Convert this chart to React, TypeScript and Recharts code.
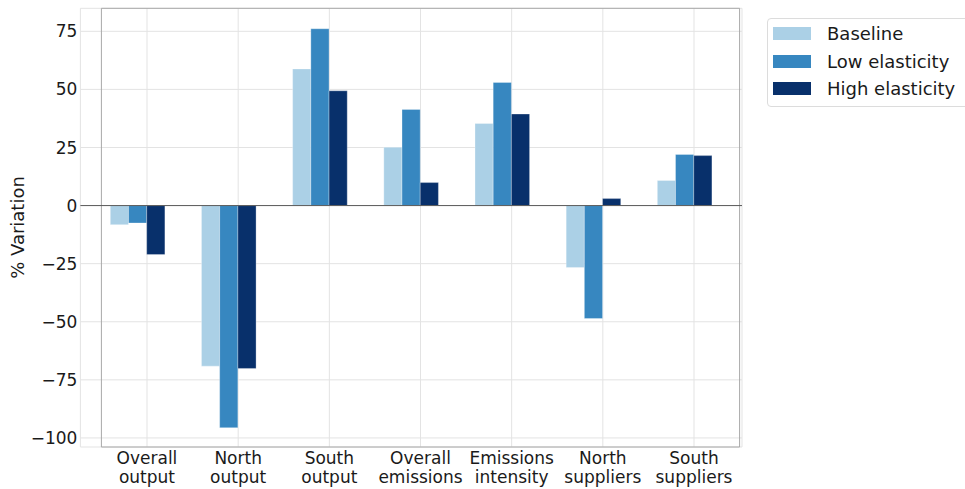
import React from 'react';
import {
  BarChart,
  Bar,
  XAxis,
  YAxis,
  CartesianGrid,
  ReferenceLine,
  ReferenceArea
} from 'recharts';

const categories = [
  'Overall\noutput',
  'North\noutput',
  'South\noutput',
  'Overall\nemissions',
  'Emissions\nintensity',
  'North\nsuppliers',
  'South\nsuppliers'
];

const baseline = [-8.2, -69.1, 58.8, 25.1, 35.3, -26.7, 10.8];
const lowElasticity = [-7.5, -95.6, 76.1, 41.4, 53.0, -48.6, 22.0];
const highElasticity = [-21.1, -70.1, 49.4, 9.9, 39.4, 3.0, 21.5];

const yTicks = [-100, -75, -50, -25, 0, 25, 50, 75];

const series = [
  { key: 'baseline', name: 'Baseline', color: '#abd0e6' },
  { key: 'low', name: 'Low elasticity', color: '#3787c0' },
  { key: 'high', name: 'High elasticity', color: '#08306b' }
];

const data = categories.map((c, i) => ({
  category: c,
  baseline: baseline[i],
  low: lowElasticity[i],
  high: highElasticity[i]
}));

const FONT = '"DejaVu Sans", sans-serif';
const Y_DOMAIN: [number, number] = [-103.9, 84.9];

const fmtY = (v: number) => (v < 0 ? `\u2212${Math.abs(v)}` : `${v}`);

const CategoryTick = (props: any) => {
  const { x, y, payload } = props;
  const lines = String(payload.value).split('\n');
  return (
    <text x={x} y={y} textAnchor="middle" fontFamily={FONT} fontSize={17} fill="#1a1a1a">
      {lines.map((l, i) => (
        <tspan key={i} x={x} dy={i === 0 ? 17 : 19}>
          {l}
        </tspan>
      ))}
    </text>
  );
};

const YTitle = () => (
  <text
    x={24}
    y={227.5}
    transform="rotate(-90 24 227.5)"
    textAnchor="middle"
    fontFamily={FONT}
    fontSize={18}
    fill="#1a1a1a"
  >
    % Variation
  </text>
);

const LegendBox = () => (
  <div
    style={{
      position: 'absolute',
      left: 767,
      top: 18,
      width: 210,
      height: 89,
      boxSizing: 'border-box',
      border: '1px solid #dcdcdc',
      borderRadius: 4,
      background: '#fff',
      paddingTop: 1,
      fontFamily: FONT,
      fontSize: 18,
      color: '#1a1a1a'
    }}
  >
    {series.map((s) => (
      <div key={s.key} style={{ display: 'flex', alignItems: 'center', height: 27.5 }}>
        <div style={{ width: 38, height: 13, marginLeft: 5, background: s.color }} />
        <span style={{ marginLeft: 16, whiteSpace: 'nowrap' }}>{s.name}</span>
      </div>
    ))}
  </div>
);

export default function App() {
  return (
    <div style={{ position: 'fixed', left: 0, top: 0, width: 965, height: 489, background: '#fff', overflow: 'hidden' }}>
      <BarChart
        width={965}
        height={489}
        data={data}
        margin={{ top: 8.3, right: 223, bottom: 0, left: 0 }}
        barGap={0}
        barSize={18.2}
      >
        {/* ticks/grid sit on the category centres; bar groups are shifted left of them */}
        <CartesianGrid xAxisId="labels" stroke="#e3e3e3" strokeWidth={1} />
        <XAxis xAxisId="bars" dataKey="category" hide height={0} padding={{ left: 11.9, right: 11.5 }} />
        <XAxis
          xAxisId="labels"
          dataKey="category"
          interval={0}
          padding={{ left: 21, right: 2.4 }}
          axisLine={false}
          tickLine={false}
          tickSize={0}
          tickMargin={0}
          height={42}
          tick={<CategoryTick />}
        />
        <YAxis
          domain={Y_DOMAIN}
          ticks={yTicks}
          interval={0}
          allowDataOverflow
          width={80.4}
          axisLine={false}
          tickLine={false}
          tickSize={0}
          tickMargin={3}
          tickFormatter={fmtY}
          tick={{ fill: '#1a1a1a', fontSize: 17, fontFamily: FONT }}
          label={<YTitle />}
        />
        {series.map((s) => (
          <Bar
            key={s.key}
            xAxisId="bars"
            dataKey={s.key}
            name={s.name}
            fill={s.color}
            stroke="#ffffff"
            strokeOpacity={0.5}
            strokeWidth={0.6}
            isAnimationActive={false}
          />
        ))}
        <ReferenceLine xAxisId="labels" y={0} stroke="#5a5a5a" strokeWidth={1} />
        <ReferenceArea
          xAxisId="labels"
          y1={Y_DOMAIN[0]}
          y2={Y_DOMAIN[1]}
          fill="none"
          stroke="#a8a8a8"
          strokeWidth={1}
        />
      </BarChart>
      <LegendBox />
    </div>
  );
}
